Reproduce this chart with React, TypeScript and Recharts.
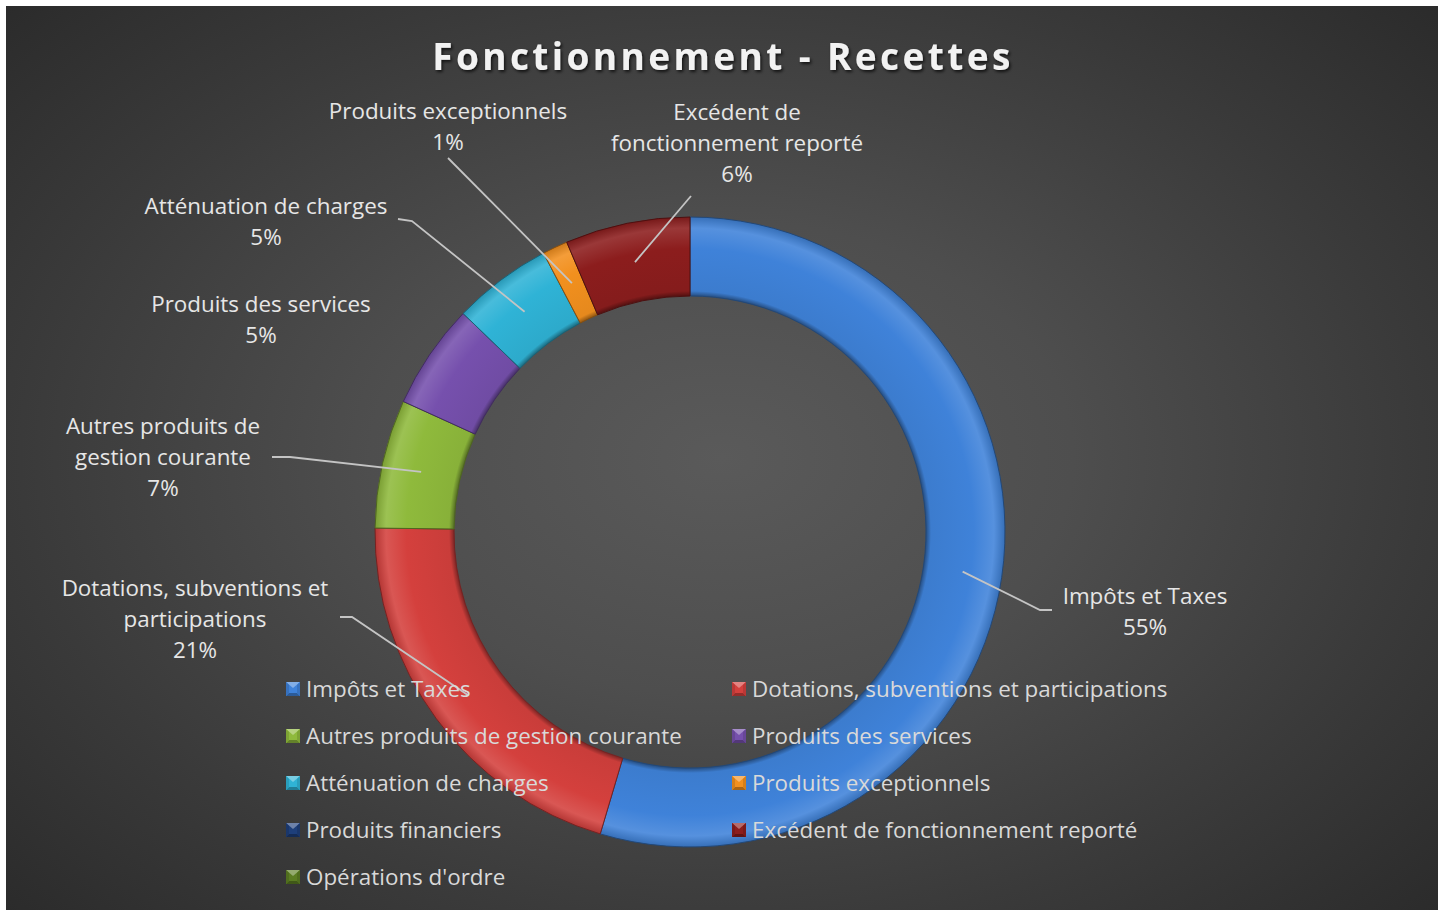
import React from 'react';
import { PieChart, Pie, Cell, Legend } from 'recharts';

// ---------- data ----------
const CATEGORIES: string[] = [
  'Impôts et Taxes',
  'Dotations, subventions et participations',
  'Autres produits de gestion courante',
  'Produits des services',
  'Atténuation de charges',
  'Produits exceptionnels',
  'Produits financiers',
  'Excédent de fonctionnement reporté',
  "Opérations d'ordre",
];
const VALUES: number[] = [54.6, 20.6, 6.6, 5.4, 5.1, 1.3, 0, 6.4, 0];
const LABEL_LINES: string[][] = [
  ['Impôts et Taxes'],
  ['Dotations, subventions et', 'participations'],
  ['Autres produits de', 'gestion courante'],
  ['Produits des services'],
  ['Atténuation de charges'],
  ['Produits exceptionnels'],
  ['Produits financiers'],
  ['Excédent de', 'fonctionnement reporté'],
  ["Opérations d'ordre"],
];
const TITLE = 'Fonctionnement - Recettes';

// ---------- styles / layout ----------
const COLORS = ['#3f82d9', '#d4403d', '#8fba3c', '#7650ad', '#2fb3d6', '#f2901e', '#1e3f7a', '#8c1d1d', '#5b7d22'];
const W = 1432;
const H = 904;
const CX = 684;
const CY = 526;
const OUTER = 315;
const INNER = 236;
const FONT = "'Open Sans', 'Noto Sans', sans-serif";
const FONT_SIZE = 22.4;
const LINE_H = 31;

// label placement relative to donut centre (manually placed labels as in the source)
const LABEL_LAYOUT: Record<number, { tx: number; ty: number; pts: number[][] | null }> = {
  0: { tx: 455, ty: 63, pts: [[362, 78], [350, 78]] },
  1: { tx: -495, ty: 55, pts: [[-350, 85], [-338, 85]] },
  2: { tx: -527, ty: -107, pts: [[-418, -75], [-400, -75]] },
  3: { tx: -429, ty: -229, pts: null },
  4: { tx: -424, ty: -327, pts: [[-292, -313], [-278, -311]] },
  5: { tx: -242, ty: -422, pts: [[-242, -374]] },
  7: { tx: 47, ty: -421, pts: [[1, -336]] },
};

const RAD = Math.PI / 180;

function shade(hex: string, pct: number): string {
  const n = parseInt(hex.slice(1), 16);
  let r = (n >> 16) & 255;
  let g = (n >> 8) & 255;
  let b = n & 255;
  const f = (c: number) => {
    const v = pct < 0 ? c * (1 + pct) : c + (255 - c) * pct;
    return Math.max(0, Math.min(255, Math.round(v)));
  };
  r = f(r); g = f(g); b = f(b);
  return '#' + ((1 << 24) + (r << 16) + (g << 8) + b).toString(16).slice(1);
}

const data = CATEGORIES.map((name, i) => ({ name, value: VALUES[i] }));

const renderLabel = (props: any) => {
  const { cx, cy, midAngle, innerRadius, outerRadius, percent, index, value } = props;
  if (!value) return null;
  const layout = LABEL_LAYOUT[index];
  if (!layout) return null;
  const r = (innerRadius + outerRadius) / 2;
  const ex = cx + r * Math.cos(-midAngle * RAD);
  const ey = cy + r * Math.sin(-midAngle * RAD);
  const lines = [...LABEL_LINES[index], `${Math.round(percent * 100)}%`];
  let path: string | null = null;
  if (layout.pts) {
    path = layout.pts.map((p, k) => `${k === 0 ? 'M' : 'L'}${cx + p[0]},${cy + p[1]}`).join(' ') + ` L${ex},${ey}`;
  }
  return (
    <g key={`lbl-${index}`}>
      {path && <path d={path} stroke="#c4c4c4" strokeWidth={1.8} fill="none" />}
      <text
        x={cx + layout.tx}
        y={cy + layout.ty}
        textAnchor="middle"
        fill="#e6e6e6"
        fontFamily={FONT}
        fontSize={FONT_SIZE}
      >
        {lines.map((t, k) => (
          <tspan key={k} x={cx + layout.tx} y={cy + layout.ty + k * LINE_H} dominantBaseline="central">
            {t}
          </tspan>
        ))}
      </text>
    </g>
  );
};

const LegendMarker = ({ color }: { color: string }) => (
  <svg width={14} height={14} style={{ flex: '0 0 auto' }}>
    <rect x={0} y={0} width={14} height={14} fill={color} />
    <polygon points="0,0 14,0 7,6" fill={shade(color, 0.35)} />
    <polygon points="0,14 14,14 11,11 3,11" fill={shade(color, -0.3)} />
    <polygon points="0,0 3,3 3,11 0,14" fill={shade(color, -0.12)} />
    <polygon points="14,0 11,3 11,11 14,14" fill={shade(color, -0.12)} />
  </svg>
);

const renderLegend = () => (
  <div
    style={{
      display: 'grid',
      gridTemplateColumns: '446px 446px',
      gridAutoRows: '47px',
      fontFamily: FONT,
      fontSize: FONT_SIZE,
      color: '#d9d9d9',
    }}
  >
    {CATEGORIES.map((name, i) => (
      <div key={name} style={{ display: 'flex', alignItems: 'center', whiteSpace: 'nowrap' }}>
        <LegendMarker color={COLORS[i]} />
        <span style={{ marginLeft: 6 }}>{name}</span>
      </div>
    ))}
  </div>
);

export default function App() {
  return (
    <div
      style={{
        position: 'absolute',
        left: 6,
        top: 6,
        width: W,
        height: H,
        background: 'radial-gradient(ellipse 70% 75% at 50% 50%, #5a5a5a 0%, #4e4e4e 35%, #3a3a3a 70%, #2a2a2a 100%)',
        overflow: 'hidden',
      }}
    >
      <PieChart width={W} height={H} margin={{ top: 0, right: 0, bottom: 0, left: 0 }}>
        <defs>
          {COLORS.map((c, i) => (
            <radialGradient key={i} id={`grad${i}`} gradientUnits="userSpaceOnUse" cx={CX} cy={CY} r={OUTER}>
              <stop offset={INNER / OUTER} stopColor={shade(c, -0.4)} />
              <stop offset={(INNER + 5) / OUTER} stopColor={shade(c, -0.05)} />
              <stop offset={0.9} stopColor={c} />
              <stop offset={0.965} stopColor={shade(c, 0.12)} />
              <stop offset={1} stopColor={shade(c, -0.15)} />
            </radialGradient>
          ))}
          <filter id="titleShadow" x="-10%" y="-30%" width="120%" height="160%">
            <feDropShadow dx={1.5} dy={2} stdDeviation={1.5} floodColor="#000" floodOpacity={0.7} />
          </filter>
        </defs>
        <text
          x={W / 2 + 1}
          y={64}
          textAnchor="middle"
          fill="#f2f2f2"
          fontFamily={FONT}
          fontWeight={700}
          fontSize={37}
          letterSpacing={3.4}
          filter="url(#titleShadow)"
        >
          {TITLE}
        </text>
        <Pie
          data={data}
          dataKey="value"
          nameKey="name"
          cx={CX}
          cy={CY}
          innerRadius={INNER}
          outerRadius={OUTER}
          startAngle={90}
          endAngle={-270}
          isAnimationActive={false}
          label={renderLabel}
          labelLine={false}
          stroke="none"
        >
          {data.map((d, i) => (
            <Cell key={d.name} fill={`url(#grad${i})`} stroke={shade(COLORS[i], -0.45)} strokeWidth={1} />
          ))}
        </Pie>
        <Legend
          layout="vertical"
          align="center"
          verticalAlign="middle"
          content={renderLegend}
          wrapperStyle={{ left: 280, top: 659, width: 900, height: 240 }}
        />
      </PieChart>
    </div>
  );
}
